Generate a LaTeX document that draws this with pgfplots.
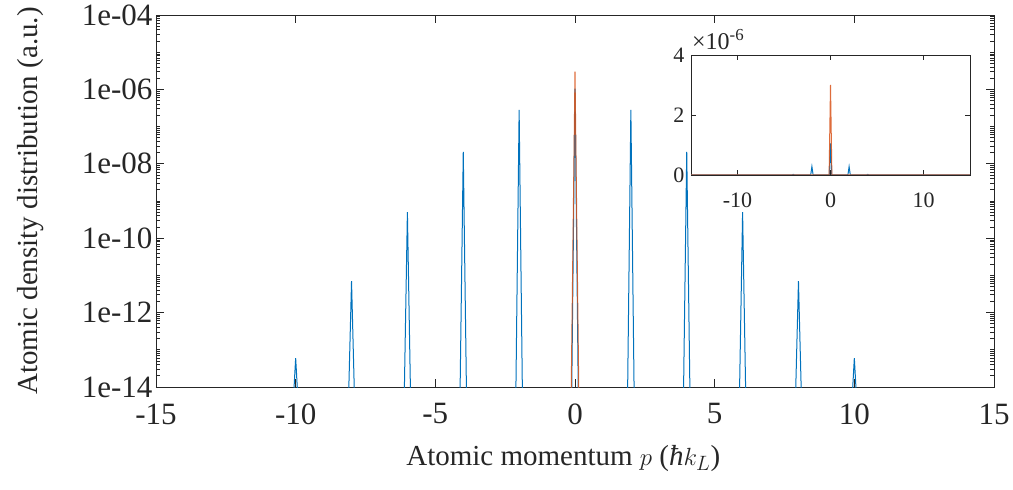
\documentclass[border=0pt]{standalone}
\usepackage{pgfplots}
\pgfplotsset{compat=1.18}
\usepackage{pgfplotstable}
\usepackage{fontspec}
\setmainfont{Liberation Serif}
\definecolor{mblue}{rgb}{0,0.447,0.741}
\definecolor{morange}{rgb}{0.851,0.325,0.098}
\definecolor{maxis}{rgb}{0.15,0.15,0.15}

\pgfplotstableread{
x y
-15 1e-17
-10.13 1e-15
-10 6e-14
-9.87 1e-15
-8.13 1e-15
-8 7e-12
-7.87 1e-15
-6.13 1e-15
-6 5e-10
-5.87 1e-15
-4.13 1e-15
-4 2.1e-8
-3.87 1e-15
-2.13 1e-15
-2 2.8e-7
-1.87 1e-15
-0.13 1e-15
0 1.05e-6
0.13 1e-15
1.87 1e-15
2 2.8e-7
2.13 1e-15
3.87 1e-15
4 2.1e-8
4.13 1e-15
5.87 1e-15
6 5e-10
6.13 1e-15
7.87 1e-15
8 7e-12
8.13 1e-15
9.87 1e-15
10 6e-14
10.13 1e-15
15 1e-17
}\bluedata

\pgfplotstableread{
x y
-15 1e-20
-0.15 1e-15
0 3e-6
0.15 1e-15
15 1e-20
}\orangedata

\begin{document}
\begin{tikzpicture}[x=1pt,y=1pt]
\useasboundingbox (0,0) rectangle (1013,490);
\begin{axis}[
  at={(156pt,103pt)}, anchor=south west,
  scale only axis, width=838pt, height=372pt,
  ymode=log,
  xmin=-15, xmax=15, ymin=1e-14, ymax=1e-4,
  xtick={-15,-10,-5,0,5,10,15},
  xticklabels={-15,-10,-5,0,5,10,15},
  ytick={1e-14,1e-12,1e-10,1e-8,1e-6,1e-4},
  yticklabels={1e-14,1e-12,1e-10,1e-08,1e-06,1e-04},
  minor ytick={2e-14,3e-14,4e-14,5e-14,6e-14,7e-14,8e-14,9e-14,1e-13,2e-13,3e-13,4e-13,5e-13,6e-13,7e-13,8e-13,9e-13,
    2e-12,3e-12,4e-12,5e-12,6e-12,7e-12,8e-12,9e-12,1e-11,2e-11,3e-11,4e-11,5e-11,6e-11,7e-11,8e-11,9e-11,
    2e-10,3e-10,4e-10,5e-10,6e-10,7e-10,8e-10,9e-10,1e-9,2e-9,3e-9,4e-9,5e-9,6e-9,7e-9,8e-9,9e-9,
    2e-8,3e-8,4e-8,5e-8,6e-8,7e-8,8e-8,9e-8,1e-7,2e-7,3e-7,4e-7,5e-7,6e-7,7e-7,8e-7,9e-7,
    2e-6,3e-6,4e-6,5e-6,6e-6,7e-6,8e-6,9e-6,1e-5,2e-5,3e-5,4e-5,5e-5,6e-5,7e-5,8e-5,9e-5},
  tick align=inside,
  major tick length=8pt, minor tick length=4pt,
  axis line style={maxis, line width=0.8pt},
  every tick/.style={maxis, line width=0.8pt},
  tick label style={font=\fontsize{31}{36}\selectfont, text=maxis},
  xticklabel style={yshift=-13pt},
  yticklabel style={xshift=0pt},
  xlabel={Atomic momentum $p$ ({\itshape ħ}$k_L$)},
  ylabel={Atomic density distribution (a.u.)},
  label style={font=\fontsize{29}{33}\selectfont, text=maxis},
  xlabel style={at={(axis description cs:0.486,-0.21)}, anchor=base},
  ylabel style={at={(axis description cs:-0.150,0.5)}, anchor=center, rotate=0},
]
\addplot[mblue, line width=1pt] table[x=x,y=y] {\bluedata};
\addplot[morange, line width=1pt, opacity=0.85] table[x=x,y=y] {\orangedata};
\end{axis}

\begin{axis}[
  name=inset,
  at={(691pt,315pt)}, anchor=south west,
  scale only axis, width=279pt, height=120pt,
  axis background/.style={fill=white},
  xmin=-15, xmax=15, ymin=0, ymax=4e-6,
  xtick={-10,0,10}, xticklabels={-10,0,10},
  ytick={0,2e-6,4e-6}, yticklabels={0,2,4},
  scaled y ticks=false,
  tick align=inside,
  major tick length=5pt,
  axis line style={maxis, line width=0.8pt},
  every tick/.style={maxis, line width=0.8pt},
  tick label style={font=\fontsize{22}{26}\selectfont, text=maxis},
  xticklabel style={yshift=-14pt},
  yticklabel style={xshift=-3pt},
]
\addplot[mblue, line width=1pt] table[x=x,y=y] {\bluedata};
\addplot[morange, line width=1pt, opacity=0.85] table[x=x,y=y] {\orangedata};
\end{axis}
\node[anchor=base west, inner sep=0pt, font=\fontsize{24}{28}\selectfont, text=maxis] at ([xshift=1pt,yshift=5pt]inset.north west) {×10\textsuperscript{-6}};
\end{tikzpicture}
\end{document}
